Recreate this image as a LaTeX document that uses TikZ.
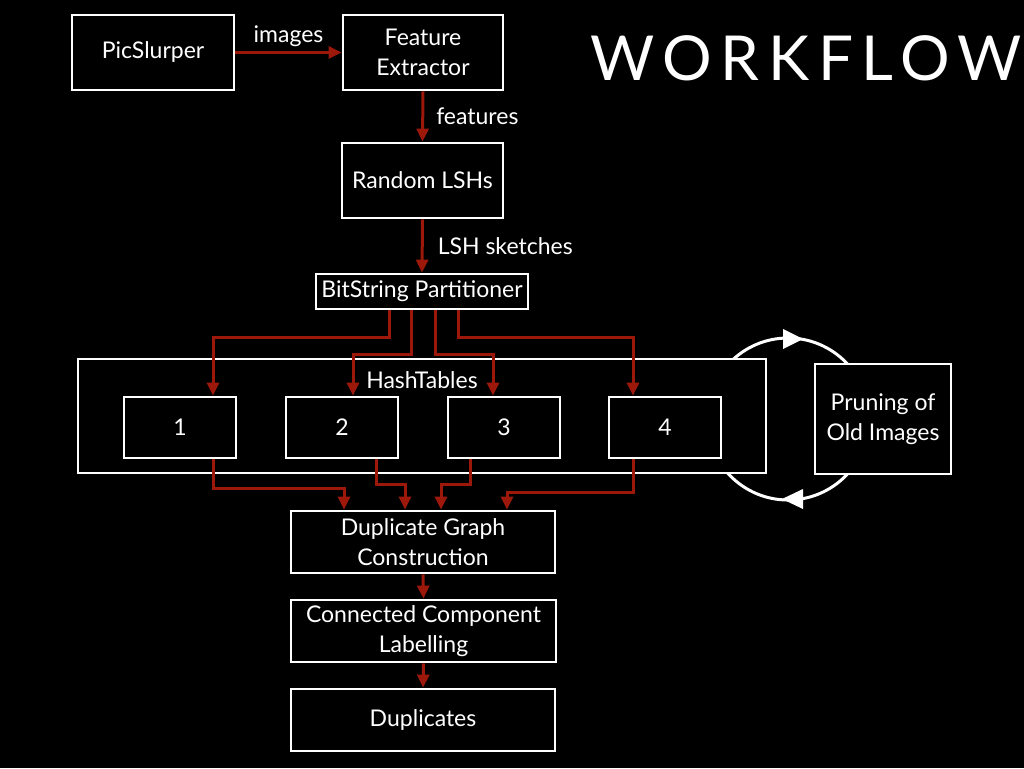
\documentclass[tikz,border=0pt]{standalone}
\usepackage{fontspec}
\setmainfont{Lato}
\newfontfamily\titlefont[LetterSpace=14]{Lato}
\usetikzlibrary{arrows.meta}
\definecolor{arrred}{RGB}{155,24,10}
\tikzset{
  box/.style={draw=white, line width=2.8pt, fill=black, text=white, align=center,
    inner sep=0pt, font=\fontsize{23}{30}\selectfont},
  lbl/.style={text=white, inner sep=0pt, font=\fontsize{23}{30}\selectfont},
  rarr/.style={draw=arrred, line width=3pt, -{Triangle[length=13pt,width=12pt]}},
}
\begin{document}
\begin{tikzpicture}[x=1pt,y=-1pt]
\fill[black] (0,0) rectangle (1024,768);
\useasboundingbox (0,0) rectangle (1024,768);

% cycle behind the boxes
\draw[white, line width=3pt] (788,419) circle[radius=81];
\fill[white] (803,339) -- (783,329) -- (783,349) -- cycle;
\fill[white] (782,499) -- (803,489) -- (803,509) -- cycle;

\node[box, minimum width=162, minimum height=75] (pic) at (153,52.5) {PicSlurper};
\node[box, minimum width=160, minimum height=75] (feat) at (423,52.5) {Feature\\Extractor};
\node[box, minimum width=161, minimum height=75] (lsh) at (422.5,180.5) {Random LSHs};
\node[box, minimum width=212, minimum height=35] (part) at (422,291.5) {BitString Partitioner};
\node[box, minimum width=688, minimum height=114] (ht) at (422,416) {};
\node[lbl] (htl) at (422,380) {HashTables};
\node[box, minimum width=112, minimum height=61] (h1) at (180,427.5) {1};
\node[box, minimum width=112, minimum height=61] (h2) at (342,427.5) {2};
\node[box, minimum width=112, minimum height=61] (h3) at (504,427.5) {3};
\node[box, minimum width=112, minimum height=61] (h4) at (665,427.5) {4};
\node[box, minimum width=264, minimum height=62] (dup) at (423,542) {Duplicate Graph\\Construction};
\node[box, minimum width=265, minimum height=62] (ccl) at (423.5,631) {Connected Component\\Labelling};
\node[box, minimum width=264, minimum height=62] (dups) at (423,720) {Duplicates};
\node[box, minimum width=136, minimum height=110] (prune) at (883,419) {Pruning of\\Old Images};

\node[text=white, inner sep=0pt, font=\titlefont\fontsize{62}{62}\selectfont] (title) at (806,58) {WORKFLOW};

% arrows
\draw[rarr] (pic.east) -- (feat.west) node[lbl, midway, above=4pt] (imgl) {images};
\draw[rarr] (feat.south) -- (lsh.north) node[lbl, midway, right=12pt] (featl) {features};
\draw[rarr] (lsh.south) -- (part.north) node[lbl, midway, right=14pt] (lshl) {LSH sketches};

\draw[rarr] ([xshift=-33]part.south) -- ++(0,27) -| ([xshift=33]h1.north);
\draw[rarr] ([xshift=-11]part.south) -- ++(0,44) -| ([xshift=11]h2.north);
\draw[rarr] ([xshift=13]part.south) -- ++(0,44) -| ([xshift=-11]h3.north);
\draw[rarr] ([xshift=36]part.south) -- ++(0,27) -| ([xshift=-32]h4.north);

\draw[rarr] ([xshift=33]h1.south) -- ++(0,29) -| ([xshift=-79]dup.north);
\draw[rarr] ([xshift=34]h2.south) -- ++(0,25) -| ([xshift=-18]dup.north);
\draw[rarr] ([xshift=-34]h3.south) -- ++(0,25) -| ([xshift=18]dup.north);
\draw[rarr] ([xshift=-32]h4.south) -- ++(0,33) -| ([xshift=84]dup.north);

\draw[rarr] (dup.south) -- (ccl.north);
\draw[rarr] (ccl.south) -- (dups.north);
\end{tikzpicture}
\end{document}
